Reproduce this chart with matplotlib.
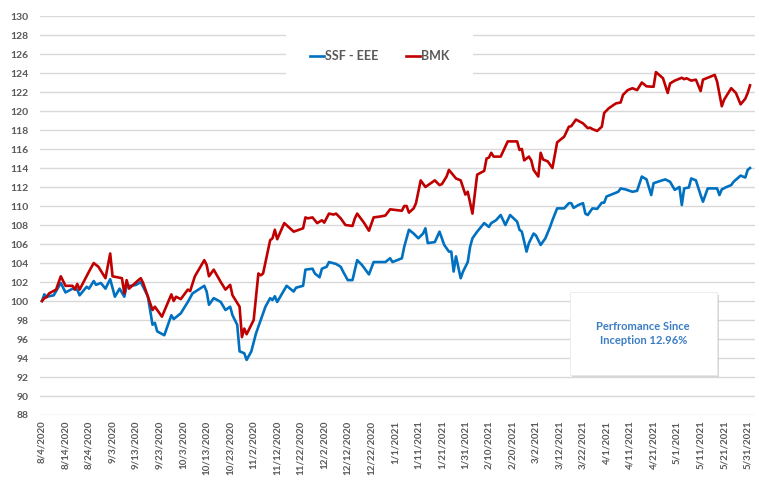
import pandas as pd
import matplotlib
matplotlib.use('Agg')
import matplotlib.pyplot as plt
from matplotlib.patches import Rectangle

plt.rcParams['font.family'] = ['Lato', 'DejaVu Sans']

# SSF - EEE (blue)
ssf_dates = ['8/4/2020', '8/5/2020', '8/6/2020', '8/9/2020', '8/12/2020', '8/14/2020', '8/17/2020', '8/19/2020',
             '8/20/2020', '8/23/2020', '8/24/2020', '8/26/2020', '8/27/2020', '8/29/2020', '8/31/2020', '9/2/2020',
             '9/4/2020', '9/6/2020', '9/8/2020', '9/9/2020', '9/11/2020', '9/13/2020', '9/15/2020', '9/18/2020',
             '9/20/2020', '9/21/2020', '9/22/2020', '9/25/2020', '9/28/2020', '9/29/2020', '10/1/2020', '10/2/2020',
             '10/5/2020', '10/7/2020', '10/12/2020', '10/13/2020', '10/14/2020', '10/16/2020', '10/19/2020',
             '10/21/2020', '10/23/2020', '10/24/2020', '10/26/2020', '10/27/2020', '10/29/2020', '10/30/2020',
             '11/1/2020', '11/3/2020', '11/5/2020', '11/7/2020', '11/9/2020', '11/10/2020', '11/11/2020',
             '11/12/2020', '11/16/2020', '11/19/2020', '11/20/2020', '11/23/2020', '11/24/2020', '11/27/2020',
             '11/28/2020', '11/30/2020', '12/1/2020', '12/3/2020', '12/4/2020', '12/7/2020', '12/9/2020',
             '12/10/2020', '12/12/2020', '12/14/2020', '12/16/2020', '12/18/2020', '12/21/2020', '12/23/2020',
             '12/28/2020', '12/30/2020', '12/31/2020', '1/4/2021', '1/5/2021', '1/7/2021', '1/9/2021', '1/11/2021',
             '1/13/2021', '1/14/2021', '1/15/2021', '1/18/2021', '1/20/2021', '1/22/2021', '1/24/2021', '1/25/2021',
             '1/26/2021', '1/27/2021', '1/29/2021', '1/30/2021', '2/1/2021', '2/2/2021', '2/3/2021', '2/5/2021',
             '2/8/2021', '2/10/2021', '2/11/2021', '2/13/2021', '2/15/2021', '2/17/2021', '2/19/2021', '2/22/2021',
             '2/23/2021', '2/24/2021', '2/26/2021', '2/27/2021', '3/1/2021', '3/2/2021', '3/4/2021', '3/6/2021',
             '3/8/2021', '3/9/2021', '3/11/2021', '3/14/2021', '3/16/2021', '3/17/2021', '3/18/2021', '3/20/2021',
             '3/22/2021', '3/23/2021', '3/24/2021', '3/26/2021', '3/28/2021', '3/30/2021', '3/31/2021', '4/1/2021',
             '4/4/2021', '4/6/2021', '4/7/2021', '4/9/2021', '4/12/2021', '4/14/2021', '4/16/2021', '4/18/2021',
             '4/20/2021', '4/21/2021', '4/24/2021', '4/26/2021', '4/28/2021', '4/30/2021', '5/2/2021', '5/3/2021',
             '5/4/2021', '5/6/2021', '5/7/2021', '5/9/2021', '5/11/2021', '5/12/2021', '5/14/2021', '5/18/2021',
             '5/19/2021', '5/20/2021', '5/22/2021', '5/24/2021', '5/25/2021', '5/28/2021', '5/30/2021', '5/31/2021',
             '6/1/2021']
ssf_vals = [100.0, 100.7, 100.45, 100.6, 101.9, 100.9, 101.3, 101.2,
            100.6, 101.5, 101.3, 102.1, 101.7, 101.9, 101.3, 102.3,
            100.45, 101.3, 100.45, 101.6, 101.6, 101.7, 102.0, 100.5,
            97.5, 97.7, 96.8, 96.4, 98.5, 98.1, 98.5, 98.7,
            99.9, 100.8, 101.6, 101.0, 99.6, 100.3, 99.9,
            99.05, 99.4, 98.5, 97.5, 94.7, 94.5, 93.8,
            94.7, 96.6, 98.0, 99.4, 100.3, 100.1, 100.5,
            99.9, 101.6, 101.0, 101.4, 101.6, 103.3, 103.4,
            102.9, 102.5, 103.4, 103.6, 104.1, 103.9, 103.6,
            103.1, 102.2, 102.2, 104.3, 103.8, 102.8, 104.1,
            104.1, 104.5, 104.1, 104.5, 105.7, 107.5, 107.1, 106.6,
            107.1, 107.65, 106.1, 106.2, 107.3, 105.9, 105.2, 105.2,
            103.1, 104.7, 102.4, 103.1, 104.1, 105.7, 106.6, 107.3,
            108.2, 107.8, 108.2, 108.5, 109.05, 108.0, 109.05, 108.35,
            107.5, 107.3, 105.2, 106.1, 107.1, 106.9, 105.9, 106.6,
            107.8, 108.5, 109.75, 109.75, 110.3, 110.3, 109.8, 110.1,
            110.3, 109.2, 109.05, 109.75, 109.7, 110.35, 110.35, 111.0,
            111.3, 111.5, 111.85, 111.75, 111.5, 111.6, 113.1, 112.8,
            111.15, 112.4, 112.65, 112.8, 112.55, 111.7, 112.0, 110.1,
            111.85, 111.95, 112.9, 112.7, 111.15, 110.45, 111.85, 111.85,
            111.15, 111.75, 112.0, 112.2, 112.55, 113.2, 113.0, 113.8,
            114.0]

# BMK (red)
bmk_dates = ['8/4/2020', '8/5/2020', '8/6/2020', '8/7/2020', '8/10/2020', '8/12/2020', '8/14/2020', '8/17/2020',
             '8/18/2020', '8/19/2020', '8/20/2020', '8/24/2020', '8/26/2020', '8/28/2020', '8/31/2020', '9/2/2020',
             '9/3/2020', '9/7/2020', '9/8/2020', '9/9/2020', '9/10/2020', '9/14/2020', '9/15/2020', '9/16/2020',
             '9/20/2020', '9/21/2020', '9/24/2020', '9/28/2020', '9/29/2020', '9/30/2020', '10/2/2020', '10/5/2020',
             '10/6/2020', '10/8/2020', '10/12/2020', '10/13/2020', '10/14/2020', '10/16/2020', '10/19/2020',
             '10/21/2020', '10/23/2020', '10/24/2020', '10/27/2020', '10/28/2020', '10/29/2020', '10/30/2020',
             '11/2/2020', '11/4/2020', '11/5/2020', '11/6/2020', '11/9/2020', '11/10/2020', '11/11/2020',
             '11/12/2020', '11/15/2020', '11/19/2020', '11/23/2020', '11/24/2020', '11/25/2020', '11/27/2020',
             '11/29/2020', '12/1/2020', '12/2/2020', '12/4/2020', '12/6/2020', '12/7/2020', '12/9/2020',
             '12/11/2020', '12/14/2020', '12/15/2020', '12/16/2020', '12/19/2020', '12/21/2020', '12/23/2020',
             '12/26/2020', '12/28/2020', '12/30/2020', '1/4/2021', '1/5/2021', '1/6/2021', '1/7/2021', '1/9/2021',
             '1/10/2021', '1/12/2021', '1/14/2021', '1/18/2021', '1/20/2021', '1/21/2021', '1/23/2021', '1/24/2021',
             '1/27/2021', '1/29/2021', '1/31/2021', '2/1/2021', '2/3/2021', '2/5/2021', '2/8/2021', '2/9/2021',
             '2/10/2021', '2/11/2021', '2/12/2021', '2/15/2021', '2/18/2021', '2/22/2021', '2/23/2021', '2/24/2021',
             '2/25/2021', '2/27/2021', '2/28/2021', '3/1/2021', '3/3/2021', '3/4/2021', '3/5/2021', '3/7/2021',
             '3/9/2021', '3/11/2021', '3/14/2021', '3/16/2021', '3/17/2021', '3/19/2021', '3/22/2021', '3/24/2021',
             '3/25/2021', '3/26/2021', '3/28/2021', '3/30/2021', '3/31/2021', '4/2/2021', '4/5/2021', '4/7/2021',
             '4/8/2021', '4/10/2021', '4/12/2021', '4/14/2021', '4/16/2021', '4/18/2021', '4/21/2021', '4/22/2021',
             '4/25/2021', '4/27/2021', '4/28/2021', '4/30/2021', '5/3/2021', '5/4/2021', '5/5/2021', '5/7/2021',
             '5/9/2021', '5/11/2021', '5/12/2021', '5/14/2021', '5/17/2021', '5/18/2021', '5/20/2021', '5/21/2021',
             '5/24/2021', '5/26/2021', '5/28/2021', '5/30/2021', '5/31/2021', '6/1/2021']
bmk_vals = [100.0, 100.3, 100.4, 100.8, 101.2, 102.6, 101.6, 101.6,
            101.2, 101.8, 101.2, 103.1, 104.0, 103.6, 102.4, 105.0,
            102.6, 102.4, 100.8, 102.2, 101.3, 102.2, 102.4, 101.9,
            99.05, 99.4, 98.35, 100.7, 100.0, 100.45, 100.2, 101.2,
            101.05, 102.6, 104.3, 103.8, 102.6, 103.3, 102.0,
            101.2, 101.7, 100.6, 99.4, 96.2, 97.1, 96.5,
            98.0, 102.9, 102.7, 102.9, 106.4, 106.6, 107.5,
            106.5, 108.2, 107.3, 107.65, 108.8, 108.7, 108.8,
            108.2, 108.5, 108.25, 109.2, 109.1, 109.2, 108.7,
            108.0, 107.9, 108.7, 109.2, 108.2, 107.4, 108.8,
            108.9, 109.0, 109.65, 109.5, 110.0, 110.0, 109.3, 109.75,
            110.3, 112.7, 112.0, 112.7, 112.2, 112.3, 113.1, 113.8,
            112.9, 112.7, 111.2, 111.5, 109.2, 113.3, 113.7, 115.0,
            115.1, 115.6, 115.2, 115.2, 116.8, 116.8, 115.9, 116.0,
            114.8, 115.2, 114.8, 113.8, 113.1, 115.6, 114.9, 114.7,
            114.0, 116.7, 117.3, 118.35, 118.4, 119.1, 118.7, 118.2,
            118.25, 118.1, 117.9, 118.35, 119.8, 120.3, 120.8, 120.9,
            121.7, 122.2, 122.4, 122.2, 123.0, 122.6, 122.55, 124.1,
            123.45, 121.9, 122.9, 123.2, 123.5, 123.35, 123.45, 123.2,
            123.3, 122.1, 123.3, 123.5, 123.8, 123.1, 120.5, 121.2,
            122.4, 121.9, 120.7, 121.3, 121.9, 122.7]

series_names = ['SSF - EEE', 'BMK']
note_text = 'Perfromance Since\nInception 12.96%'

start = pd.Timestamp('2020-08-04')
tick_dates = pd.date_range(start, '2021-05-31', freq='10D')
tick_labels = [f'{d.month}/{d.day}/{d.year}' for d in tick_dates]
y_ticks = list(range(88, 131, 2))

blue = '#0070C0'
red = '#C00000'
gray = '#595959'

fig = plt.figure(figsize=(7.57, 4.78), dpi=100)
ax = fig.add_axes([0.0528, 0.1318, 0.9442, 0.8347])

ssf_x = pd.to_datetime(ssf_dates, format='%m/%d/%Y')
bmk_x = pd.to_datetime(bmk_dates, format='%m/%d/%Y')
ax.plot(ssf_x, ssf_vals, color=blue, lw=1.9, label=series_names[0], zorder=3)
ax.plot(bmk_x, bmk_vals, color=red, lw=1.9, label=series_names[1], zorder=3)

ax.set_xlim(start - pd.Timedelta(days=0.85), start + pd.Timedelta(days=303))
ax.set_ylim(88, 130)
ax.set_yticks(y_ticks)
ax.set_xticks(tick_dates)
ax.set_xticklabels(tick_labels, rotation=90, fontsize=7, fontweight='bold', color=gray)
ax.set_yticklabels([str(v) for v in y_ticks], fontsize=7.5, fontweight='bold', color=gray)
ax.tick_params(axis='both', length=0)
ax.tick_params(axis='x', pad=4)
ax.tick_params(axis='y', pad=8)
ax.grid(axis='y', color='#d9d9d9', lw=1)
ax.set_axisbelow(True)
for s in ax.spines.values():
    s.set_visible(False)

leg = ax.legend(loc='center', bbox_to_anchor=(0.4755, 0.90), ncol=2, frameon=True,
                handlelength=1.1, handletextpad=0.1, columnspacing=2.2,
                borderpad=1.9, prop={'weight': 'bold', 'size': 9})
leg.get_frame().set_facecolor('white')
leg.get_frame().set_edgecolor('none')
leg.get_frame().set_alpha(1)
leg.get_frame().set_boxstyle('square', pad=0)
for t in leg.get_texts():
    t.set_color(gray)

# note box with a soft shadow
bx0, by0, bw, bh = 0.741, 0.10, 0.206, 0.208
ax.add_patch(Rectangle((bx0 + 0.003, by0 - 0.006), bw, bh, transform=ax.transAxes,
                       facecolor='#bfbfbf', edgecolor='none', alpha=0.6, zorder=4))
ax.add_patch(Rectangle((bx0, by0), bw, bh, transform=ax.transAxes,
                       facecolor='white', edgecolor='#e6e6e6', lw=0.5, zorder=5))
ax.text(bx0 + bw / 2, by0 + bh / 2, note_text, transform=ax.transAxes, ha='center', va='center',
        fontsize=8, fontweight='bold', color='#3b7dc4', linespacing=1.3, zorder=6)

fig.savefig('out.png', dpi=100)
